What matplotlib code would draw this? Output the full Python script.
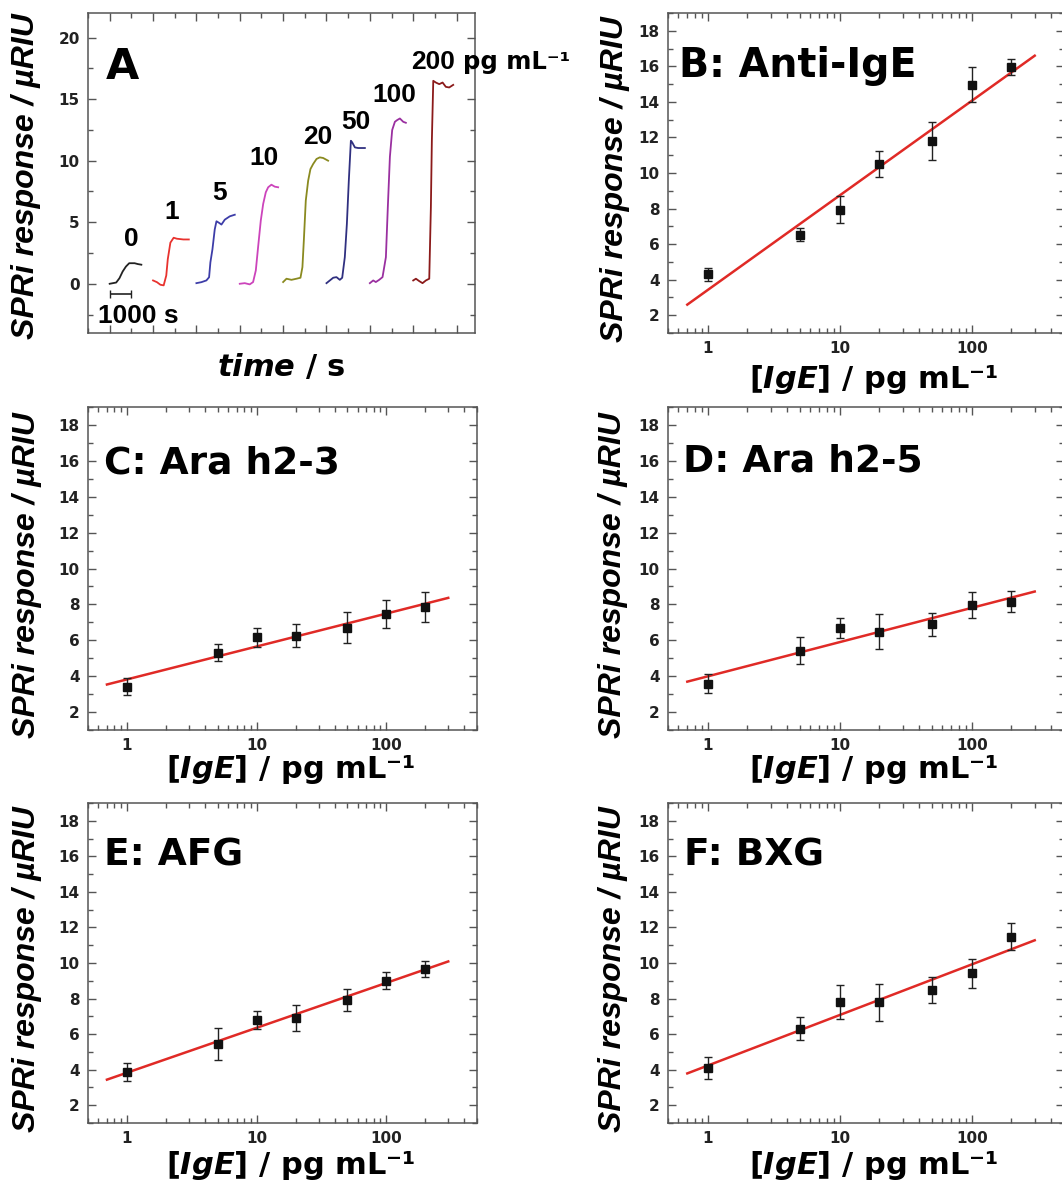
import numpy as np
import matplotlib
matplotlib.use("Agg")
import matplotlib.pyplot as plt
from matplotlib.ticker import MultipleLocator, LogLocator, NullFormatter, FixedLocator, FixedFormatter

plt.rcParams['font.family'] = 'DejaVu Sans'
plt.rcParams['font.weight'] = 'bold'
plt.rcParams['mathtext.fontset'] = 'custom'
plt.rcParams['mathtext.rm'] = 'DejaVu Sans:bold'
plt.rcParams['mathtext.bf'] = 'DejaVu Sans:bold'
plt.rcParams['mathtext.it'] = 'DejaVu Sans:italic:bold'

# ---- panel A: sensorgrams (time relative to each injection, s) ----
starts = [0, 2000, 4000, 6000, 8000, 10000, 12000, 14000]
names = ['0', '1', '5', '10', '20', '50', '100', '200']
colors = ['#222222', '#e8322e', '#3d3da8', '#cc44bb', '#8a8a20', '#303080', '#9a30a0', '#8b1a1a']

t0 = [0, 150, 300, 450, 600, 750, 900, 1150, 1300, 1460]
y0 = [0, 0.05, 0.1, 0.45, 1.0, 1.4, 1.67, 1.67, 1.6, 1.55]
t1 = [0, 180, 340, 490, 610, 680, 800, 950, 1100, 1400, 1650]
y1 = [0.27, 0.13, -0.08, -0.13, 0.67, 2.0, 3.34, 3.74, 3.66, 3.6, 3.6]
t5 = [0, 230, 460, 585, 645, 740, 845, 925, 1045, 1155, 1310, 1540, 1770]
y5 = [0.05, 0.13, 0.27, 0.53, 1.74, 2.8, 4.41, 5.08, 4.95, 4.81, 5.21, 5.48, 5.61]
t10 = [0, 230, 460, 615, 740, 845, 970, 1080, 1200, 1310, 1460, 1615, 1770]
y10 = [0, 0.05, -0.05, 0.14, 1.08, 2.97, 5.14, 6.49, 7.43, 7.84, 8.05, 7.89, 7.84]
t20 = [0, 155, 385, 615, 800, 890, 955, 1045, 1155, 1260, 1385, 1540, 1690, 1845, 2075]
y20 = [0.14, 0.41, 0.32, 0.41, 0.49, 1.35, 3.51, 6.76, 8.38, 9.32, 9.73, 10.14, 10.27, 10.22, 10.0]
t50 = [0, 155, 310, 460, 615, 725, 845, 940, 1030, 1125, 1185, 1310, 1460, 1770]
y50 = [0.05, 0.27, 0.49, 0.54, 0.32, 0.49, 2.16, 4.86, 8.38, 11.62, 11.49, 11.08, 11.03, 11.03]
t100 = [0, 155, 275, 430, 585, 740, 830, 925, 1030, 1155, 1260, 1385, 1540, 1660]
y100 = [0.05, 0.27, 0.14, 0.32, 0.54, 2.16, 6.27, 10.32, 12.49, 13.16, 13.3, 13.43, 13.16, 13.08]
t200 = [0, 125, 275, 430, 585, 740, 815, 860, 925, 1045, 1200, 1355, 1505, 1660, 1845]
y200 = [0.27, 0.41, 0.22, 0.05, 0.27, 0.41, 6.22, 11.62, 16.49, 16.35, 16.22, 16.35, 16.0, 15.95, 16.16]
traces_t = [t0, t1, t5, t10, t20, t50, t100, t200]
traces_y = [y0, y1, y5, y10, y20, y50, y100, y200]

# label positions (time, response)
label_t = [1000, 2846, 5076, 7121, 9613, 11350, 13150, 13900]
label_y = [3.6, 5.86, 7.35, 10.2, 11.95, 13.16, 15.3, 18.0]

# ---- panels B-F: calibration data ----
conc = [1, 5, 10, 20, 50, 100, 200]
titles = ['B: Anti-IgE', 'C: Ara h2-3', 'D: Ara h2-5', 'E: AFG', 'F: BXG']
resp = [
    [4.3, 6.53, 7.93, 10.5, 11.8, 14.96, 15.95],
    [3.4, 5.31, 6.17, 6.26, 6.71, 7.47, 7.85],
    [3.59, 5.42, 6.67, 6.48, 6.9, 7.98, 8.16],
    [3.87, 5.46, 6.8, 6.91, 7.92, 9.0, 9.66],
    [4.11, 6.3, 7.83, 7.79, 8.48, 9.43, 11.49],
]
errs = [
    [0.37, 0.37, 0.76, 0.75, 1.05, 0.98, 0.44],
    [0.47, 0.47, 0.53, 0.64, 0.84, 0.76, 0.82],
    [0.51, 0.75, 0.56, 0.96, 0.64, 0.73, 0.61],
    [0.53, 0.9, 0.49, 0.72, 0.62, 0.49, 0.47],
    [0.62, 0.65, 0.96, 1.04, 0.75, 0.82, 0.78],
]
# linear fit vs log10(conc): intercept, slope
fit_a = [3.42, 3.82, 3.99, 3.83, 4.23]
fit_b = [5.32, 1.834, 1.908, 2.526, 2.845]
fit_range = [0.7, 300]

W, H = 1062, 1183
fig = plt.figure(figsize=(W / 100, H / 100), dpi=100)

def px_axes(l, t, w, h):
    return fig.add_axes([l / W, (H - t - h) / H, w / W, h / H])

spine_col = '#555555'
unit = 'pg mL\u207b\u00b9'

def style(ax):
    for s in ax.spines.values():
        s.set_color(spine_col)
        s.set_linewidth(1.1)
    ax.tick_params(which='both', direction='in', top=True, right=True,
                   color=spine_col, width=1)
    ax.tick_params(which='major', length=6, labelsize=11, pad=6, labelcolor='#222222')
    ax.tick_params(which='minor', length=3.5)

# panel A
axA = px_axes(88, 13, 387, 320)
for tt, yy, st, c in zip(traces_t, traces_y, starts, colors):
    axA.plot(np.array(tt) + st, yy, color=c, lw=1.3)
axA.set_xlim(-1000, 16850)
axA.set_ylim(-4, 22)
axA.xaxis.set_major_locator(MultipleLocator(2000))
axA.xaxis.set_minor_locator(MultipleLocator(1000))
axA.yaxis.set_major_locator(FixedLocator([0, 5, 10, 15, 20]))
axA.yaxis.set_minor_locator(MultipleLocator(2.5))
axA.xaxis.set_major_formatter(NullFormatter())
style(axA)
for s, tx, ty in zip(names[:-1], label_t[:-1], label_y[:-1]):
    axA.text(tx, ty, s, ha='center', va='center', fontsize=19,
             family='Liberation Sans', weight='bold')
lab200 = axA.text(label_t[-1], label_y[-1], '200', ha='left', va='center', fontsize=19,
                  family='Liberation Sans', weight='bold')
axA.annotate(unit, xy=(1, 0.5), xycoords=lab200, xytext=(6, 0), textcoords='offset points',
             ha='left', va='center', fontsize=17.5, weight='bold', annotation_clip=False)
# 1000 s scale bar
axA.errorbar([500], [-0.8], xerr=[500], fmt='none', ecolor='#222222', elinewidth=1.2, capsize=3)
axA.text(1300, -2.6, '1000 s', ha='center', va='center', fontsize=19,
         family='Liberation Sans', weight='bold')
axA.text(0.045, 0.794, 'A', transform=axA.transAxes, fontsize=31, weight='bold', va='baseline')
axA.text(0.5, -0.06, r'$\mathit{time}$ / s', transform=axA.transAxes, ha='center', va='top',
         fontsize=22, weight='bold')
axA.text(-0.161, 0.49, 'SPRi response / \u00b5RIU', transform=axA.transAxes, rotation=90,
         ha='center', va='center', fontsize=23, family='Liberation Sans', weight='bold', style='italic')

# panels B-F
boxes = [(668, 13, 396, 320), (88, 407, 389, 323), (668, 407, 396, 323),
         (88, 803, 389, 320), (668, 803, 396, 320)]
title_x = [0.027, 0.042, 0.038, 0.040, 0.040]
title_y = [0.800, 0.793, 0.800, 0.806, 0.806]
title_fs = [28.5, 27, 27, 27, 27]
ylab_x = [-0.135, -0.158, -0.139, -0.158, -0.139]
xlab_y = [-0.172, -0.148, -0.148, -0.158, -0.158]

for i, (l, t, w, h) in enumerate(boxes):
    ax = px_axes(l, t, w, h)
    xf = np.array(fit_range)
    ax.plot(xf, fit_a[i] + fit_b[i] * np.log10(xf), color='#e02a26', lw=1.8, zorder=2)
    ax.errorbar(conc, resp[i], yerr=errs[i], fmt='s', color='#111111', ms=6,
                ecolor='#222222', elinewidth=1, capsize=2.8, capthick=1, zorder=3)
    ax.set_xscale('log')
    ax.set_xlim(0.5, 500)
    ax.set_ylim(1, 19)
    ax.xaxis.set_major_locator(FixedLocator([1, 10, 100]))
    ax.xaxis.set_major_formatter(FixedFormatter(['1', '10', '100']))
    ax.xaxis.set_minor_locator(LogLocator(base=10, subs=np.arange(2, 10)))
    ax.xaxis.set_minor_formatter(NullFormatter())
    ax.yaxis.set_major_locator(FixedLocator(list(range(2, 19, 2))))
    ax.yaxis.set_minor_locator(MultipleLocator(1))
    style(ax)
    ax.text(title_x[i], title_y[i], titles[i], transform=ax.transAxes, fontsize=title_fs[i],
            weight='bold', va='baseline')
    ax.text(0.52, xlab_y[i], r'$\mathit{[IgE]}$ / ' + unit, transform=ax.transAxes,
            ha='center', va='baseline', fontsize=22, weight='bold')
    ax.text(ylab_x[i], 0.48, 'SPRi response / \u00b5RIU', transform=ax.transAxes, rotation=90,
            ha='center', va='center', fontsize=23, family='Liberation Sans',
            weight='bold', style='italic')

fig.savefig('out.png', dpi=100, facecolor='white')
